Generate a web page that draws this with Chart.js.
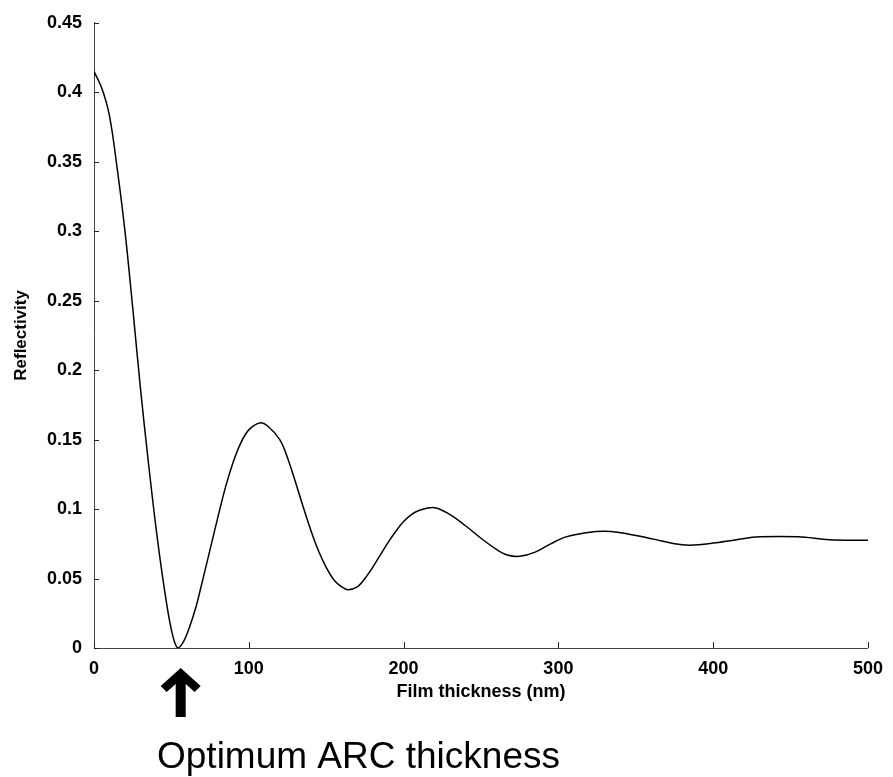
<!DOCTYPE html>
<html>
<head>
<meta charset="utf-8">
<script src="https://cdn.jsdelivr.net/npm/chart.js@4/dist/chart.umd.min.js"></script>
<style>
  html, body { margin: 0; padding: 0; background: #fff; }
  #wrap { width: 893px; height: 777px; }
</style>
</head>
<body>
<div id="wrap"><canvas id="chart"></canvas></div>
<script>
// film thickness (nm) and reflectivity
const thickness = [0, 5, 10, 15, 20, 25, 30, 35, 40, 45, 50, 54, 58, 62, 66, 70, 75, 80, 85, 90, 95, 100, 107, 112, 120, 125, 130, 135, 140, 145, 150, 155, 160, 164, 170, 175, 180, 185, 190, 195, 200, 205, 210, 220, 230, 240, 250, 260, 267, 275, 285, 295, 305, 318, 330, 340, 350, 363, 375, 385, 400, 415, 430, 455, 475, 500];
const reflectivity = [0.415, 0.403, 0.383, 0.345, 0.300, 0.245, 0.187, 0.135, 0.087, 0.046, 0.013, 0.000, 0.005, 0.016, 0.030, 0.048, 0.071, 0.094, 0.116, 0.134, 0.148, 0.157, 0.162, 0.160, 0.150, 0.137, 0.120, 0.102, 0.085, 0.070, 0.058, 0.049, 0.044, 0.042, 0.044, 0.050, 0.058, 0.067, 0.076, 0.084, 0.091, 0.096, 0.099, 0.101, 0.096, 0.088, 0.079, 0.071, 0.067, 0.066, 0.069, 0.075, 0.080, 0.083, 0.084, 0.083, 0.081, 0.078, 0.075, 0.074, 0.0755, 0.078, 0.080, 0.080, 0.078, 0.0775];

const xTicks = [0, 100, 200, 300, 400, 500];
const yTicks = [0, 0.05, 0.1, 0.15, 0.2, 0.25, 0.3, 0.35, 0.4, 0.45];
const arrowAt = 56; // optimum ARC thickness marker
const caption = 'Optimum ARC thickness';

const points = thickness.map((t, i) => ({ x: t, y: reflectivity[i] }));
const FONT = '"Liberation Sans", Arial, sans-serif';

// small inward tick marks, arrow and caption
const extras = {
  id: 'extras',
  afterDraw(chart) {
    const { ctx, scales: { x, y } } = chart;
    ctx.save();
    ctx.strokeStyle = '#222';
    ctx.lineWidth = 1;
    xTicks.forEach(v => {
      const px = Math.round(x.getPixelForValue(v)) + 0.5;
      ctx.beginPath();
      ctx.moveTo(px, y.bottom);
      ctx.lineTo(px, y.bottom - 6);
      ctx.stroke();
    });
    yTicks.forEach(v => {
      const py = Math.round(y.getPixelForValue(v)) + 0.5;
      ctx.beginPath();
      ctx.moveTo(x.left, py);
      ctx.lineTo(x.left + 5, py);
      ctx.stroke();
    });

    // arrow
    const ax = x.getPixelForValue(arrowAt);
    const top = y.bottom + 20;
    ctx.fillStyle = '#000';
    ctx.beginPath();
    ctx.moveTo(ax, top);
    ctx.lineTo(ax + 20, top + 18);
    ctx.lineTo(ax + 14, top + 24);
    ctx.lineTo(ax + 5, top + 16);
    ctx.lineTo(ax + 5, top + 49);
    ctx.lineTo(ax - 5, top + 49);
    ctx.lineTo(ax - 5, top + 16);
    ctx.lineTo(ax - 14, top + 24);
    ctx.lineTo(ax - 20, top + 18);
    ctx.closePath();
    ctx.fill();

    ctx.font = '37px ' + FONT;
    ctx.textAlign = 'left';
    ctx.textBaseline = 'alphabetic';
    ctx.fillText(caption, 157, 768);
    ctx.restore();
  }
};

new Chart(document.getElementById('chart'), {
  type: 'line',
  data: {
    datasets: [{
      data: points,
      borderColor: '#000',
      borderWidth: 1.5,
      pointRadius: 0,
      fill: false,
      tension: 0.35
    }]
  },
  options: {
    responsive: true,
    maintainAspectRatio: false,
    animation: false,
    layout: { padding: { left: 0, top: 17, right: 24, bottom: 73 } },
    plugins: { legend: { display: false }, tooltip: { enabled: false } },
    scales: {
      x: {
        type: 'linear',
        min: 0,
        max: 500,
        afterBuildTicks: s => { s.ticks = xTicks.map(v => ({ value: v })); },
        afterFit: s => { s.height = 56; },
        grid: { display: false, drawTicks: false },
        border: { display: true, color: '#444', width: 1 },
        ticks: { color: '#000', padding: 10, maxRotation: 0, font: { family: FONT, size: 18, weight: 'bold' } },
        title: { display: true, text: 'Film thickness (nm)', color: '#000', padding: { top: 0, bottom: 1.5 }, font: { family: FONT, size: 18, weight: 'bold' } }
      },
      y: {
        min: 0,
        max: 0.45,
        afterBuildTicks: s => { s.ticks = yTicks.map(v => ({ value: v })); },
        afterFit: s => { s.width = 94; },
        grid: { display: false, drawTicks: false },
        border: { display: true, color: '#444', width: 1 },
        ticks: { color: '#000', padding: 12, font: { family: FONT, size: 18, weight: 'bold' }, callback: v => String(+v.toFixed(2)) },
        title: { display: true, text: 'Reflectivity', color: '#000', padding: { top: 11, bottom: 0 }, font: { family: FONT, size: 17, weight: 'bold' } }
      }
    }
  },
  plugins: [extras]
});
</script>
</body>
</html>
